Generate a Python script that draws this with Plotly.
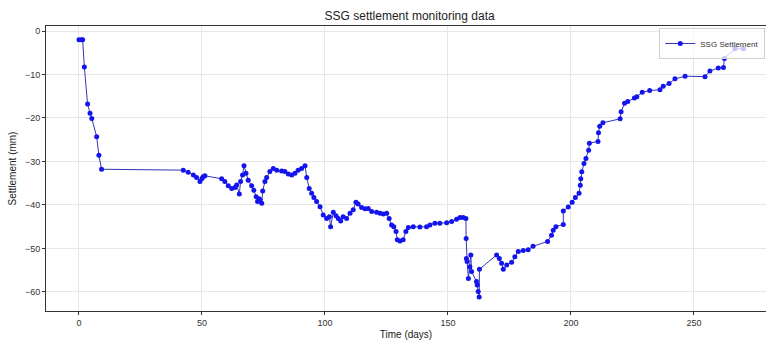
import plotly.graph_objects as go

days = [0, 1, 1.5, 2.2, 3.5, 4.5, 5.2, 7.2, 8.1, 9.2,
        42.4, 44.4, 46.5, 47.8, 49.2, 50.0, 50.5, 51.2,
        58.0, 59.3, 60.7, 62.1, 63.4, 64.1, 65.2, 65.7, 66.5, 67.1, 67.9,
        68.8, 70.2, 71.1, 72.0, 72.6, 73.2, 73.6, 74.3, 74.7, 75.6, 76.3,
        77.6, 79.0, 80.4, 82.4, 83.7, 85.1, 86.5, 87.8, 89.1, 90.5, 91.9,
        92.6, 93.6, 94.6, 95.5, 96.6, 98.0, 99.3, 100.7, 101.8, 102.3,
        103.4, 104.5, 105.4, 106.4, 107.4, 108.8, 110.2, 111.5, 112.6,
        113.5, 114.9, 116.3, 117.6, 119.0, 121.0, 122.4, 123.7, 125.1,
        126.1, 127.1, 128.0, 128.9, 129.4, 130.5, 131.8, 132.9, 133.9,
        135.9, 138.6, 141.3, 142.7, 144.7, 146.7, 149.5, 151.5, 153.5,
        154.9, 156.2, 157.3, 157.4, 157.5, 157.8, 158.3, 158.9, 159.3,
        159.6, 161.6, 161.9, 162.3, 162.7, 162.8,
        169.8, 170.9, 171.8, 172.5, 173.9, 175.9, 177.2, 178.6, 180.6,
        182.6, 184.6, 190.5, 192.1, 192.8, 193.9, 196.9, 196.9, 198.9,
        200.5, 201.8, 203.3, 203.8, 204.0, 204.4, 205.3, 206.1, 207.2,
        207.5, 211.0, 211.2, 211.7, 213.0, 220.0, 220.4, 221.8, 223.1,
        225.8, 226.8, 229.0, 232.0, 236.2, 237.5, 239.9, 242.3, 246.4,
        254.5, 256.5, 259.9, 262.0, 262.4, 266.7, 270.1]

settlement = [-2.0, -2.0, -2.0, -8.3, -16.8, -18.9, -20.1, -24.3, -28.6, -31.8,
              -32.0, -32.5, -33.1, -33.7, -34.6, -33.9, -33.5, -33.3,
              -34.0, -34.6, -35.6, -36.2, -36.0, -35.4, -37.5, -34.6, -33.1, -31.0, -32.7,
              -34.3, -35.6, -36.6, -38.1, -39.2, -38.6, -38.8, -39.6, -36.8, -34.6, -33.7,
              -32.3, -31.6, -32.0, -32.2, -32.3, -32.9, -33.1, -32.7, -32.0, -31.6, -31.0,
              -33.7, -36.2, -37.3, -38.3, -39.2, -40.4, -42.3, -43.1, -42.7, -45.0,
              -41.7, -42.5, -43.1, -43.7, -42.7, -43.1, -41.9, -41.1, -39.4,
              -39.8, -40.6, -40.9, -40.8, -41.5, -41.7, -41.9, -42.1, -41.9,
              -43.1, -44.6, -45.0, -46.1, -48.0, -48.3, -48.0, -46.1, -45.2,
              -45.0, -45.1, -45.0, -44.6, -44.2, -44.2, -44.1, -43.8, -43.3,
              -42.9, -42.9, -43.1, -47.7, -52.3, -53.0, -56.9, -54.2, -51.5,
              -55.3, -57.6, -58.4, -59.9, -61.2, -54.8,
              -51.5, -52.3, -53.4, -54.8, -53.8, -53.2, -51.9, -50.7, -50.5,
              -50.3, -49.5, -48.4, -47.0, -45.8, -45.0, -44.5, -41.4, -40.5,
              -39.4, -38.3, -37.3, -35.5, -34.0, -32.4, -30.5, -29.3, -27.4,
              -25.8, -25.4, -23.4, -21.9, -21.1, -20.2, -18.6, -16.6, -16.2,
              -15.4, -15.1, -14.1, -13.7, -13.5, -12.7, -12.1, -11.0, -10.4,
              -10.5, -9.2, -8.5, -8.4, -6.3, -4.1, -4.1]

x_ticks = [0, 50, 100, 150, 200, 250]
y_ticks = [-60, -50, -40, -30, -20, -10, 0]

FONT = "Liberation Sans, Arial, sans-serif"

fig = go.Figure()
fig.add_trace(go.Scatter(
    x=days, y=settlement, mode="lines+markers", name="SSG Settlement",
    line=dict(color="#3535b5", width=1),
    marker=dict(color="#1414ee", size=5, line=dict(width=0)),
))

fig.update_layout(
    width=766, height=342, autosize=False,
    margin=dict(l=46, r=0, t=26, b=31, autoexpand=False),
    paper_bgcolor="white", plot_bgcolor="white",
    font=dict(family=FONT, size=9, color="#333333"),
    title=dict(text="SSG settlement monitoring data", x=0.505, xref="paper",
               xanchor="center", y=0.955, yref="container", yanchor="middle",
               font=dict(family=FONT, size=12, color="#222222")),
    showlegend=True,
    legend=dict(x=0.999, xanchor="right", y=0.993, yanchor="top",
                bgcolor="rgba(255,255,255,0.75)", bordercolor="#d0d0d0",
                borderwidth=1, itemwidth=30, tracegroupgap=0,
                font=dict(size=8, color="#333333")),
    xaxis=dict(range=[-13.4, 279.3], tickvals=x_ticks, showgrid=True,
               gridcolor="#e6e6e6", gridwidth=1, zeroline=False,
               showline=True, linecolor="#333333", linewidth=1, mirror=True,
               ticks="outside", ticklen=3, tickcolor="#333333",
               title=dict(text="Time (days)", standoff=4,
                          font=dict(size=10, color="#222222"))),
    yaxis=dict(range=[-64.4, 1.15], tickvals=y_ticks, showgrid=True,
               gridcolor="#e6e6e6", gridwidth=1, zeroline=False,
               showline=True, linecolor="#333333", linewidth=1,
               ticks="outside", ticklen=3, tickcolor="#333333",
               title=dict(text="Settlement (mm)", standoff=6,
                          font=dict(size=10, color="#222222"))),
)

fig.write_html("out.html", config={"displayModeBar": False})
